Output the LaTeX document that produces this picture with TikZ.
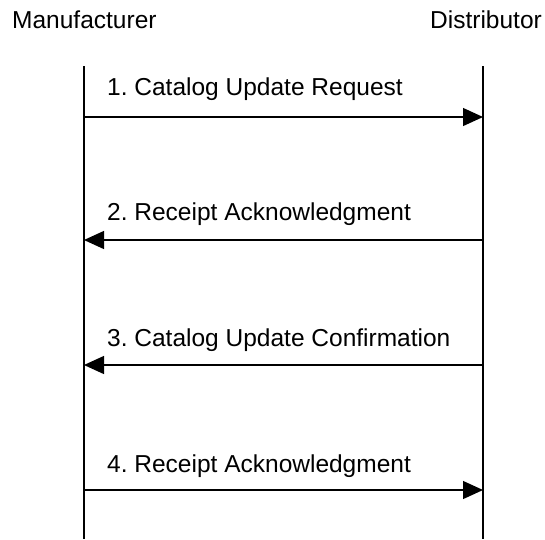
\documentclass[tikz,border=0pt]{standalone}
\usepackage{fontspec}
\setmainfont{Liberation Sans}
\frenchspacing
\usetikzlibrary{arrows.meta,positioning}

\begin{document}
\begin{tikzpicture}[x=1pt, y=-1pt,
    font=\fontsize{24.5}{28}\selectfont,
    lifeline/.style={line width=1.3pt},
    msg/.style={-{Triangle[length=20pt, width=18pt]}, line width=1.3pt},
    msglabel/.style={anchor=base west, inner sep=0pt}]
    \useasboundingbox (0,0) rectangle (545,539);
    \node[anchor=base west, inner sep=0pt] (manuf) at (12,28) {Manufacturer};
    \node[anchor=base east, inner sep=0pt] (distr) at (542,28) {Distributor};
    \coordinate (mtop) at (84,66);
    \coordinate (mbot) at (84,539);
    \coordinate (dtop) at (483,66);
    \coordinate (dbot) at (483,539);
    \draw[lifeline] (mtop) -- (mbot);
    \draw[lifeline] (dtop) -- (dbot);
    \coordinate (m1) at (84,117);
    \coordinate (d1) at (483,117);
    \coordinate (m2) at (84,240);
    \coordinate (d2) at (483,240);
    \coordinate (m3) at (84,365);
    \coordinate (d3) at (483,365);
    \coordinate (m4) at (84,490);
    \coordinate (d4) at (483,490);
    \draw[msg] (m1) -- (d1);
    \draw[msg] (d2) -- (m2);
    \draw[msg] (d3) -- (m3);
    \draw[msg] (m4) -- (d4);
    \node[msglabel] (l1) at (107,95) {1. Catalog Update Request};
    \node[msglabel] (l2) at (107,220) {2. Receipt Acknowledgment};
    \node[msglabel] (l3) at (107,346) {3. Catalog Update Confirmation};
    \node[msglabel] (l4) at (107,472) {4. Receipt Acknowledgment};
\end{tikzpicture}
\end{document}
